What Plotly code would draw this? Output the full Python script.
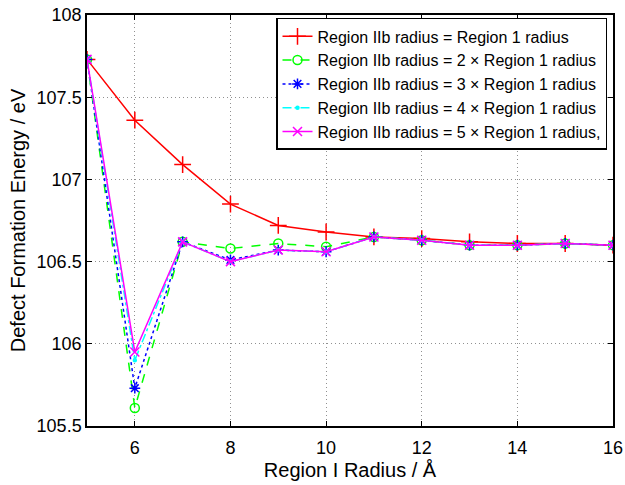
import plotly.graph_objects as go

radius = [5, 6, 7, 8, 9, 10, 11, 12, 13, 14, 15, 16]
e_r1 = [107.73, 107.36, 107.09, 106.85, 106.72, 106.68, 106.65, 106.64, 106.62, 106.61, 106.61, 106.60]
e_r2 = [107.73, 105.61, 106.62, 106.58, 106.61, 106.59, 106.65, 106.63, 106.60, 106.60, 106.61, 106.60]
e_r3 = [107.73, 105.73, 106.62, 106.51, 106.57, 106.56, 106.65, 106.63, 106.60, 106.60, 106.61, 106.60]
e_r4 = [107.73, 105.90, 106.62, 106.50, 106.57, 106.56, 106.65, 106.63, 106.60, 106.60, 106.61, 106.60]
e_r5 = [107.73, 105.95, 106.62, 106.50, 106.57, 106.56, 106.65, 106.63, 106.60, 106.60, 106.61, 106.60]
names = [
    "Region IIb radius = Region 1 radius",
    "Region IIb radius = 2 × Region 1 radius",
    "Region IIb radius = 3 × Region 1 radius",
    "Region IIb radius = 4 × Region 1 radius",
    "Region IIb radius = 5 × Region 1 radius,",
]
x_ticks = [6, 8, 10, 12, 14, 16]
y_ticks = [105.5, 106, 106.5, 107, 107.5, 108]

styles = [
    dict(color="#ff0000", dash="solid", symbol="cross-thin-open", msize=12),
    dict(color="#00ff00", dash="dash", symbol="circle-open", msize=9),
    dict(color="#0000ff", dash="dot", symbol="asterisk-open", msize=9),
    dict(color="#00ffff", dash="dashdot", symbol="circle", msize=3),
    dict(color="#ff00ff", dash="solid", symbol="x-thin-open", msize=9),
]

fig = go.Figure()
for ys, nm, st in zip([e_r1, e_r2, e_r3, e_r4, e_r5], names, styles):
    fig.add_trace(go.Scatter(
        x=radius, y=ys, name=nm, mode="lines+markers",
        line=dict(color=st["color"], dash=st["dash"], width=1.5),
        marker=dict(symbol=st["symbol"], size=st["msize"], color=st["color"],
                    line=dict(color=st["color"], width=1.5)),
    ))

axis_common = dict(
    showline=True, linecolor="black", linewidth=1.5, mirror="ticks",
    ticks="inside", ticklen=5, tickcolor="black", tickwidth=1,
    showgrid=True, gridcolor="#909090", griddash="1px,3px", gridwidth=1,
    zeroline=False, tickfont=dict(size=18, color="black"), automargin=False,
)
fig.update_xaxes(range=[5, 16], tickvals=x_ticks, ticktext=[str(v) for v in x_ticks],
                 ticklabelstandoff=5,
                 title=dict(text="Region I Radius / Å", font=dict(size=20, color="black"), standoff=6),
                 **axis_common)
fig.update_yaxes(range=[105.5, 108], tickvals=y_ticks, ticktext=[("%g" % v) for v in y_ticks],
                 title=dict(text="Defect Formation Energy / eV", font=dict(size=20, color="black"), standoff=6),
                 **axis_common)
fig.update_layout(
    width=625, height=485,
    margin=dict(l=87, r=12, t=15, b=59),
    plot_bgcolor="white", paper_bgcolor="white",
    font=dict(family="Liberation Sans, Arial, sans-serif", color="black"),
    legend=dict(x=0.9886, y=0.993, xanchor="right", yanchor="top",
                bgcolor="white", bordercolor="black", borderwidth=1.5,
                font=dict(size=16, color="black"), tracegroupgap=0,
                itemwidth=30),
    showlegend=True,
)
fig.write_html("out.html")
